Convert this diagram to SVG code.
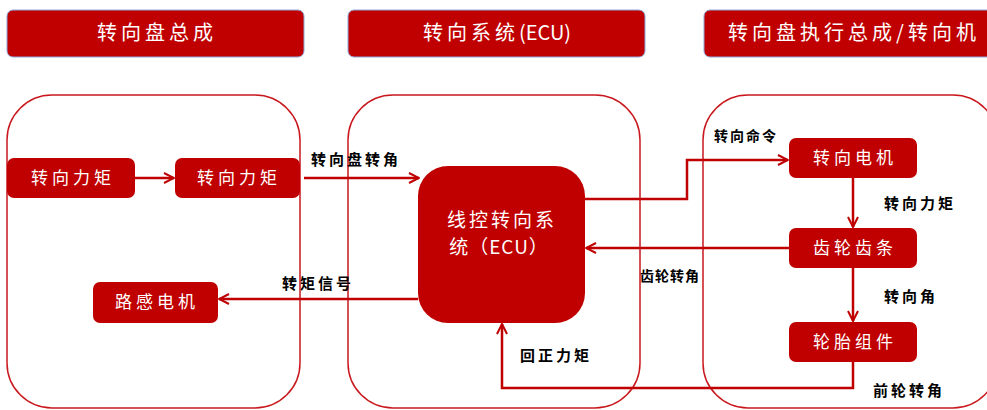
<svg xmlns="http://www.w3.org/2000/svg" width="987" height="410" viewBox="0 0 987 410">
<defs>
<marker id="ah" viewBox="0 0 12 12" refX="11" refY="6" markerWidth="12" markerHeight="12" markerUnits="userSpaceOnUse" orient="auto">
<path d="M1,1 L11,6 L1,11" fill="none" stroke="#C00000" stroke-width="2"/>
</marker>
<style>
.hdr{fill:#C00000;stroke:#8EA9DB;stroke-width:1}
.hdrt{fill:#fff;font-family:"Noto Sans CJK SC","Liberation Serif",serif;font-size:20px;letter-spacing:4px;text-anchor:middle}
.panel{fill:none;stroke:#C9191E;stroke-width:1.5}
.node{fill:#C00000}
.nt{fill:#fff;font-family:"Noto Sans CJK SC","Liberation Serif",serif;font-size:17px;letter-spacing:4px;text-anchor:middle}
.lbl{fill:#000;font-family:"Noto Sans CJK SC","Liberation Serif",serif;font-size:15px;font-weight:bold;letter-spacing:3px}
.c{fill:none;stroke:#C00000;stroke-width:2.5}
</style>
</defs>
<rect width="987" height="410" fill="#fff"/>
<g id="headers">
<g id="h1"><rect class="hdr" x="7" y="10" width="297" height="47" rx="6"/><text class="hdrt" x="157" y="40">转向盘总成</text></g>
<g id="h2"><rect class="hdr" x="348" y="10" width="297" height="47" rx="6"/><text class="hdrt" x="497" y="40">转向系统<tspan style="letter-spacing:0px">(ECU)</tspan></text></g>
<g id="h3"><rect class="hdr" x="704" y="10" width="297" height="47" rx="6"/><text class="hdrt" x="854" y="40">转向盘执行总成/转向机</text></g>
</g>
<g id="panels">
<rect class="panel" x="7" y="95" width="293" height="313" rx="45"/>
<rect class="panel" x="348" y="95" width="292" height="313" rx="45"/>
<rect class="panel" x="703" y="95" width="295" height="313" rx="45"/>
</g>
<g id="connectors">
<path class="c" d="M135,178 L174,178" marker-end="url(#ah)"/>
<path class="c" d="M304,178 L419,178" marker-end="url(#ah)"/>
<path class="c" d="M585,199 L687,199 L687,160 L788,160" marker-end="url(#ah)"/>
<path class="c" d="M853,178 L853,227" marker-end="url(#ah)"/>
<path class="c" d="M789,248 L586,248" marker-end="url(#ah)"/>
<path class="c" d="M853,268 L853,321" marker-end="url(#ah)"/>
<path class="c" d="M853,362 L853,388 L502,388 L502,324" marker-end="url(#ah)"/>
<path class="c" d="M418,299 L219,299" marker-end="url(#ah)"/>
</g>
<g id="n1"><rect class="node" x="7" y="158" width="128" height="40" rx="7"/><text class="nt" x="73" y="184">转向力矩</text></g>
<g id="n2"><rect class="node" x="175" y="158" width="125" height="40" rx="7"/><text class="nt" x="239" y="184">转向力矩</text></g>
<g id="n3"><rect class="node" x="93" y="282" width="125" height="41" rx="7"/><text class="nt" x="157" y="308">路感电机</text></g>
<g id="ecu"><rect class="node" x="418" y="166" width="167" height="157" rx="30"/><text class="nt" x="502" y="227" style="font-size:19px;letter-spacing:3px">线控转向系</text><text class="nt" x="499" y="254" style="font-size:19px;letter-spacing:1px">统（ECU）</text></g>
<g id="n4"><rect class="node" x="789" y="138" width="128" height="40" rx="7"/><text class="nt" x="855" y="164">转向电机</text></g>
<g id="n5"><rect class="node" x="789" y="228" width="128" height="40" rx="7"/><text class="nt" x="855" y="254">齿轮齿条</text></g>
<g id="n6"><rect class="node" x="789" y="322" width="128" height="40" rx="7"/><text class="nt" x="855" y="348">轮胎组件</text></g>
<g id="labels">
<text class="lbl" x="311" y="165">转向盘转角</text>
<text class="lbl" x="282" y="289">转矩信号</text>
<text class="lbl" x="714" y="141" style="font-size:14px;letter-spacing:2px">转向命令</text>
<text class="lbl" x="884" y="209">转向力矩</text>
<text class="lbl" x="640" y="281" style="font-size:14px;letter-spacing:1px">齿轮转角</text>
<text class="lbl" x="884" y="302">转向角</text>
<text class="lbl" x="520" y="361">回正力矩</text>
<text class="lbl" x="873" y="396">前轮转角</text>
</g>
</svg>
